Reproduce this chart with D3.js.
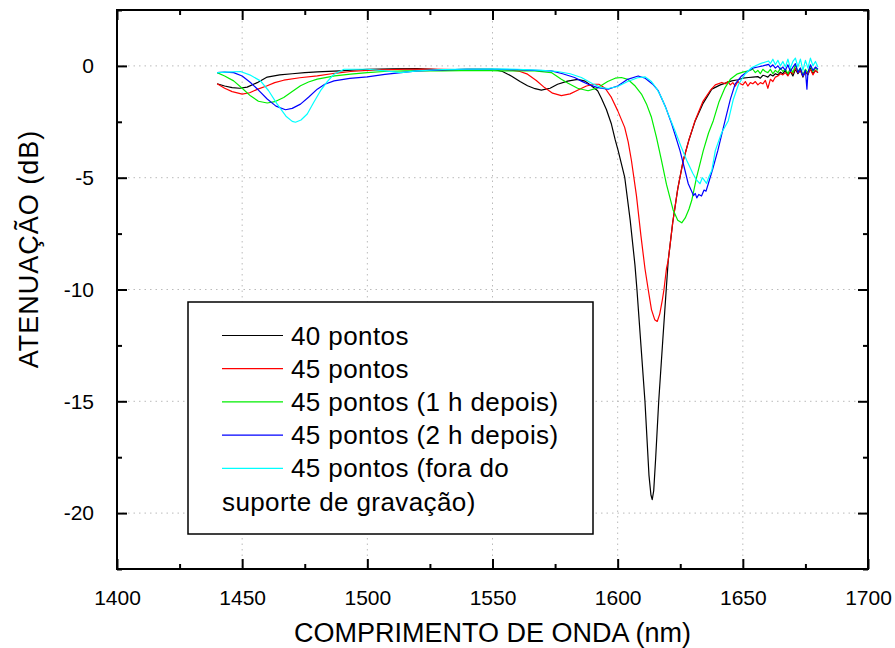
<!DOCTYPE html>
<html>
<head>
<meta charset="utf-8">
<script src="https://cdn.jsdelivr.net/npm/d3@7"></script>
<style>
  body { margin: 0; background: #fff; }
  text { font-family: Arial, "Liberation Sans", Helvetica, sans-serif; fill: #000; }
</style>
</head>
<body>
<div id="chart"></div>
<script>
// attenuation spectra, [wavelength nm, dB]
const s40 = [[1440,-0.8],[1443,-0.9],[1446,-0.97],[1449,-1.0],[1452,-0.95],[1456,-0.75],[1460,-0.5],[1465,-0.4],[1470,-0.35],
  [1475,-0.3],[1480,-0.27],[1489,-0.22],[1500,-0.15],[1510,-0.13],[1520,-0.12],[1530,-0.18],[1540,-0.15],[1550,-0.15],
  [1554,-0.25],[1557.5,-0.45],[1561,-0.7],[1564,-0.89],[1567,-1.02],[1569.5,-1.08],[1573,-1.0],[1576,-0.82],[1580,-0.68],
  [1584,-0.6],[1587,-0.68],[1589.5,-0.89],[1592,-1.11],[1593.5,-1.45],[1595.5,-1.95],[1597.5,-2.6],[1599,-3.3],[1600.2,-3.79],
  [1602.8,-4.97],[1605,-6.9],[1606.9,-8.9],[1607.7,-10],[1609.3,-12.5],[1610.9,-15],[1612.5,-18.3],[1613.3,-19.2],[1613.8,-19.4],
  [1614.4,-19.0],[1615.2,-17.5],[1616.4,-15],[1618,-12.3],[1619.4,-10],[1620.2,-8.7],[1622,-7.0],[1624,-5.5],[1626.2,-4.23],
  [1628.5,-3.3],[1631,-2.45],[1634,-1.7],[1637.6,-1.04],[1641,-0.85],[1645.6,-0.67],[1648,-0.62],[1650,-0.55],[1652.3,-0.52],
  [1654,-0.5],[1656,-0.48],[1657,-0.55],[1658,-0.42],[1659,-0.45],[1660,-0.5],[1661,-0.38],[1662,-0.45],[1663,-0.35],[1664,-0.4],
  [1665,-0.28],[1666,-0.35],[1667,-0.2],[1668,-0.4],[1669,-0.25],[1670,-0.45],[1671,-0.15],[1672,-0.35],[1673,-0.2],[1674,-0.5],
  [1675,-0.25],[1676,-0.4],[1677,-0.1],[1678,-0.35],[1679,-0.2],[1680,-0.3]]

const s45 = [[1440,-0.8],[1443,-1.0],[1446,-1.15],[1450,-1.26],[1453,-1.2],[1456,-1.05],[1460,-0.89],[1463,-0.75],[1466.6,-0.64],
  [1473,-0.53],[1480,-0.45],[1487,-0.33],[1493.3,-0.25],[1500,-0.2],[1506.7,-0.18],[1515,-0.15],[1525,-0.14],[1535,-0.17],
  [1545,-0.15],[1552,-0.15],[1557.5,-0.19],[1561,-0.25],[1564,-0.37],[1567.5,-0.65],[1570.8,-0.97],[1574,-1.22],[1577.5,-1.33],
  [1581,-1.25],[1584.2,-1.08],[1587.5,-0.9],[1590.8,-0.82],[1592.5,-0.82],[1595,-1.0],[1597.5,-1.41],[1600,-2.0],[1602.8,-2.75],
  [1604.2,-3.4],[1605.5,-4.23],[1607.5,-5.8],[1609.3,-7.6],[1610.9,-9.06],[1612.2,-10],[1613.5,-10.9],[1614.8,-11.35],
  [1615.8,-11.43],[1616.8,-11.1],[1617.8,-10.5],[1618.5,-10],[1619.5,-9.06],[1620.2,-8.7],[1622,-7.0],[1624,-5.5],[1626.2,-4.23],
  [1628.5,-3.3],[1630.9,-2.45],[1634,-1.6],[1636.9,-1.11],[1639,-0.85],[1641.6,-0.74],[1643,-0.8],[1644,-0.7],[1645,-0.85],
  [1646,-0.75],[1647,-0.9],[1648,-0.7],[1649,-0.8],[1650,-0.85],[1651,-0.7],[1652,-0.9],[1653,-0.75],[1654,-0.8],[1655,-0.7],
  [1656,-0.85],[1657,-0.75],[1658,-0.8],[1659,-0.65],[1660,-1.0],[1661,-0.6],[1662,-0.7],[1663,-0.5],[1664,-0.45],[1665,-0.35],
  [1666,-0.4],[1667,-0.3],[1668,-0.45],[1669,-0.25],[1670,-0.35],[1671,-0.1],[1672,-0.3],[1673,-0.2],[1674,-0.45],[1675,-0.25],
  [1676,-0.35],[1677,-0.15],[1678,-0.4],[1679,-0.2],[1680,-0.3]]

const s45_1h = [[1440,-0.3],[1443,-0.45],[1446.6,-0.67],[1450,-1.0],[1453.3,-1.34],[1456.5,-1.58],[1460,-1.66],[1463,-1.6],
  [1466.6,-1.41],[1470,-1.15],[1473.3,-0.89],[1476.5,-0.72],[1480,-0.59],[1487,-0.45],[1493.3,-0.37],[1500,-0.3],[1506.7,-0.25],
  [1515,-0.22],[1530,-0.22],[1545,-0.2],[1553.4,-0.22],[1560,-0.22],[1566.8,-0.22],[1573.5,-0.3],[1577.5,-0.6],[1580.2,-0.78],
  [1584,-1.0],[1588.2,-1.11],[1592,-0.98],[1596,-0.7],[1599,-0.55],[1601.5,-0.52],[1604,-0.6],[1607,-0.9],[1609.5,-1.26],
  [1611.5,-1.7],[1613.5,-2.3],[1615.5,-3.2],[1617.5,-4.23],[1619.5,-5.3],[1622.2,-6.46],[1624,-6.9],[1625.6,-7.02],[1627,-6.8],
  [1628.5,-6.4],[1629.6,-6.01],[1631.5,-5.0],[1634.2,-3.79],[1636.3,-3.0],[1638.2,-2.45],[1640.5,-1.6],[1642.9,-0.97],
  [1645,-0.6],[1647.6,-0.37],[1650,-0.28],[1652.3,-0.22],[1654,-0.15],[1655,-0.3],[1656,-0.2],[1657,-0.35],[1658,-0.15],
  [1659,-0.25],[1660,-0.3],[1661,-0.15],[1662,-0.35],[1663,-0.2],[1664,-0.3],[1665,-0.1],[1666,-0.25],[1667,-0.15],[1668,-0.35],
  [1669,-0.1],[1670,-0.3],[1671,0.05],[1672,-0.25],[1673,-0.1],[1674,-0.4],[1675,-0.15],[1676,-0.3],[1677,0.0],[1678,-0.25],
  [1679,-0.1],[1680,-0.2]]

const s45_2h = [[1440,-0.3],[1443,-0.28],[1446.6,-0.3],[1450,-0.45],[1453.3,-0.74],[1456.5,-1.08],[1460,-1.48],[1463.5,-1.8],
  [1467.3,-1.96],[1470,-1.9],[1473.3,-1.71],[1476.5,-1.4],[1480,-1.04],[1483,-0.82],[1486.7,-0.67],[1493,-0.56],[1500,-0.49],
  [1507,-0.38],[1513.4,-0.3],[1520,-0.22],[1530,-0.18],[1540,-0.15],[1550,-0.15],[1560,-0.17],[1567,-0.2],[1573.5,-0.22],
  [1578,-0.35],[1582.8,-0.52],[1585.5,-0.68],[1588.2,-0.82],[1592,-0.97],[1596.2,-1.04],[1600,-0.9],[1604,-0.6],[1608.2,-0.45],
  [1611,-0.55],[1614,-0.82],[1616.2,-1.11],[1619,-1.8],[1621.6,-2.6],[1624.9,-3.79],[1626.5,-4.5],[1628.2,-5.27],[1629.5,-5.6],
  [1630.3,-5.8],[1631,-5.7],[1631.6,-5.9],[1632.4,-5.75],[1633.5,-5.82],[1634.5,-5.55],[1635.3,-5.6],[1636.2,-5.27],[1638,-4.6],
  [1640,-3.79],[1641.5,-3.1],[1642.9,-2.45],[1645,-1.5],[1646.9,-0.82],[1649.5,-0.45],[1652.3,-0.22],[1654,-0.1],[1656,-0.05],
  [1658,0.0],[1660.3,0.07],[1661,-0.05],[1662,0.05],[1663,-0.1],[1664,0.0],[1665,-0.15],[1666,-0.05],[1667,-0.2],[1668,0.05],
  [1669,-0.25],[1670,-0.05],[1671,0.1],[1672,-0.3],[1673,-0.1],[1674,-0.45],[1675,-0.2],[1675.6,-1.04],[1676,-0.3],[1677,0.05],
  [1678,-0.2],[1679,-0.05],[1680,-0.15]]

const s45_fora = [[1440,-0.3],[1444,-0.28],[1449.3,-0.25],[1453,-0.4],[1457.3,-0.67],[1460.5,-1.1],[1464,-1.71],[1467.5,-2.25],
  [1470,-2.48],[1471.3,-2.52],[1473.5,-2.42],[1476,-2.15],[1478.5,-1.65],[1481.3,-1.11],[1484,-0.7],[1486.7,-0.37],
  [1490.7,-0.15],[1500,-0.15],[1507,-0.22],[1513.4,-0.3],[1520,-0.22],[1530,-0.16],[1540,-0.14],[1550,-0.13],[1560,-0.15],
  [1570,-0.2],[1576,-0.25],[1581,-0.35],[1585.5,-0.52],[1590,-0.8],[1593.5,-0.97],[1596.2,-1.01],[1600,-0.92],[1604,-0.7],
  [1608,-0.53],[1610.9,-0.49],[1613.5,-0.7],[1615.5,-1.0],[1617.5,-1.41],[1620,-2.1],[1622.9,-2.9],[1625.3,-3.6],[1627.6,-4.23],
  [1630,-4.8],[1631.5,-5.1],[1632.9,-5.27],[1633.8,-5.0],[1634.5,-5.1],[1635.5,-5.25],[1636.5,-4.95],[1637.6,-4.68],
  [1639,-3.79],[1641.5,-3.0],[1644.2,-2.45],[1646.2,-1.5],[1648.3,-0.82],[1651,-0.35],[1653.6,-0.07],[1657,0.1],[1660.3,0.22],
  [1661,0.1],[1662,0.3],[1663,0.05],[1664,0.25],[1665,0.0],[1666,0.2],[1667,-0.05],[1668,0.3],[1669,-0.1],[1670,0.2],
  [1671,0.35],[1672,-0.05],[1673,0.3],[1674,-0.2],[1675,0.25],[1676,-0.1],[1677,0.35],[1678,0.0],[1679,0.2],[1680,-0.05]]

const seriesNames = ['40 pontos', '45 pontos', '45 pontos (1 h depois)', '45 pontos (2 h depois)', '45 pontos (fora do']
const seriesColors = ['#000000', '#ff0000', '#00ee00', '#0000ff', '#00ffff']
const seriesData = [s40, s45, s45_1h, s45_2h, s45_fora]

const xTicks = [1400, 1450, 1500, 1550, 1600, 1650, 1700]
const yTicks = [0, -5, -10, -15, -20]

const W = 895, H = 648
const margin = {left: 117, right: 27, top: 10, bottom: 79}
const pw = W - margin.left - margin.right,
      ph = H - margin.top - margin.bottom

const svg = d3.select('#chart').append('svg')
  .attr('width', W).attr('height', H)

const x = d3.scaleLinear().domain([1400, 1700]).range([0, pw])
const y = d3.scaleLinear().domain([-22.5, 2.5]).range([ph, 0])

const g = svg.append('g').attr('transform', 'translate(' + margin.left + ',' + margin.top + ')')

// dotted grid at major ticks
g.append('g').selectAll('line').data(xTicks.slice(1, -1)).enter().append('line')
  .attr('x1', d => x(d)).attr('x2', d => x(d)).attr('y1', 0).attr('y2', ph)
  .attr('stroke', '#bbb').attr('stroke-dasharray', '1.5,4')
g.append('g').selectAll('line').data(yTicks).enter().append('line')
  .attr('y1', d => y(d)).attr('y2', d => y(d)).attr('x1', 0).attr('x2', pw)
  .attr('stroke', '#bbb').attr('stroke-dasharray', '1.5,4')

// curves
const line = d3.line().x(d => x(d[0])).y(d => y(d[1]))
g.append('g').selectAll('path').data(seriesData).enter().append('path')
  .attr('d', line)
  .attr('fill', 'none')
  .attr('stroke', (d, i) => seriesColors[i])
  .attr('stroke-width', 1.2)
  .attr('stroke-linejoin', 'round')

// axes, ticks pointing inward on all four sides
function styleAxis(sel) {
  sel.select('.domain').remove()
  sel.selectAll('line').attr('stroke', '#000').attr('stroke-width', 2)
}
const plainNum = d => String(d)   // hyphen minus, like the original
const xMinor = d3.range(1425, 1700, 50)
const yMinor = d3.range(-22.5, 2.6, 2.5).filter(v => v % 5 !== 0)

g.append('g').attr('transform', 'translate(0,' + ph + ')')
  .call(d3.axisBottom(x).tickValues(xTicks).tickSize(-10).tickPadding(21).tickFormat(plainNum))
  .call(styleAxis)
  .call(a => a.selectAll('text').attr('font-size', 21).attr('font-family', 'Arial, Liberation Sans, sans-serif'))
g.append('g').attr('transform', 'translate(0,' + ph + ')')
  .call(d3.axisBottom(x).tickValues(xMinor).tickSize(-5).tickFormat(''))
  .call(styleAxis)
g.append('g')
  .call(d3.axisTop(x).tickValues(xTicks).tickSize(-10).tickFormat(''))
  .call(styleAxis)
g.append('g')
  .call(d3.axisTop(x).tickValues(xMinor).tickSize(-5).tickFormat(''))
  .call(styleAxis)

g.append('g')
  .call(d3.axisLeft(y).tickValues(yTicks).tickSize(-10).tickPadding(23).tickFormat(plainNum))
  .call(styleAxis)
  .call(a => a.selectAll('text').attr('font-size', 21).attr('font-family', 'Arial, Liberation Sans, sans-serif'))
g.append('g')
  .call(d3.axisLeft(y).tickValues(yMinor).tickSize(-5).tickFormat(''))
  .call(styleAxis)
g.append('g').attr('transform', 'translate(' + pw + ',0)')
  .call(d3.axisRight(y).tickValues(yTicks).tickSize(-10).tickFormat(''))
  .call(styleAxis)
g.append('g').attr('transform', 'translate(' + pw + ',0)')
  .call(d3.axisRight(y).tickValues(yMinor).tickSize(-5).tickFormat(''))
  .call(styleAxis)

// frame
g.append('rect').attr('width', pw).attr('height', ph)
  .attr('fill', 'none').attr('stroke', '#000').attr('stroke-width', 2)

// legend
const lg = svg.append('g')
lg.append('rect').attr('x', 188).attr('y', 302).attr('width', 405).attr('height', 232)
  .attr('fill', '#fff').attr('stroke', '#000').attr('stroke-width', 1.5)
seriesNames.forEach(function(name, i) {
  const ly = 335.5 + i * 33.2
  lg.append('line').attr('x1', 222).attr('x2', 283).attr('y1', ly).attr('y2', ly)
    .attr('stroke', seriesColors[i]).attr('stroke-width', 1.2)
  lg.append('text').attr('x', 291).attr('y', ly + 9).attr('font-size', 26)
    .attr('letter-spacing', 0.4).text(name)
})
lg.append('text').attr('x', 222).attr('y', 335.5 + 5 * 33.2 + 9).attr('font-size', 26)
  .attr('letter-spacing', 0.4).text('suporte de gravação)')

// axis titles
svg.append('text').attr('x', margin.left + pw / 2).attr('y', 642)
  .attr('text-anchor', 'middle').attr('font-size', 27).text('COMPRIMENTO DE ONDA (nm)')
svg.append('text').attr('transform', 'translate(38,249) rotate(-90)')
  .attr('text-anchor', 'middle').attr('font-size', 27).attr('letter-spacing', 1).text('ATENUAÇÃO (dB)')
</script>
</body>
</html>
